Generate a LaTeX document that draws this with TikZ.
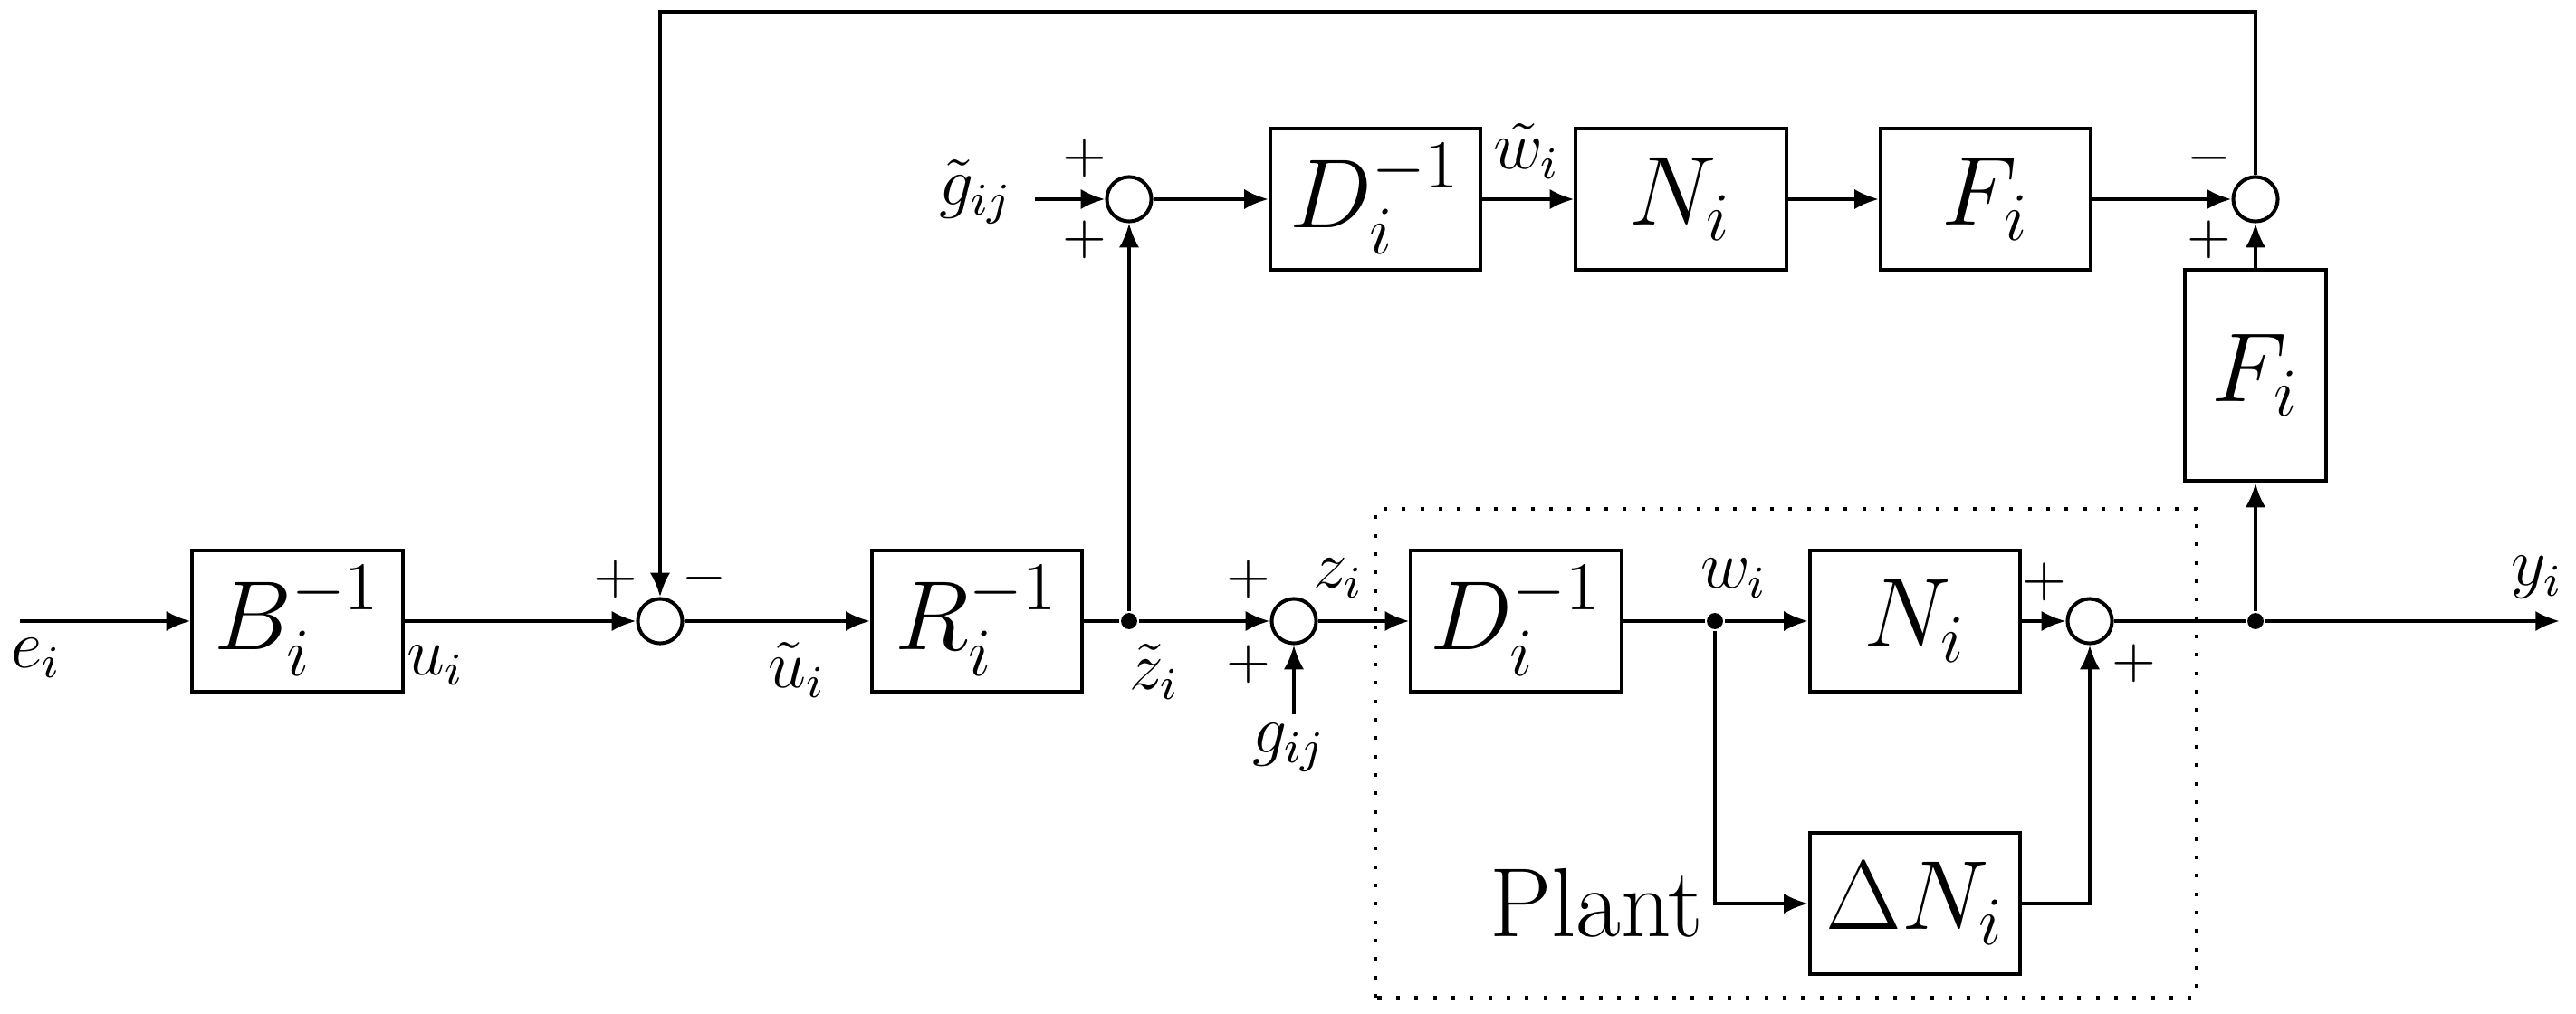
\documentclass[tikz,border=0pt]{standalone}
\usepackage{amsmath}
\usepackage{amssymb}
\usepackage{tikz}
\usetikzlibrary{arrows.meta}
\usetikzlibrary{calc}

\begin{document}
\begin{tikzpicture}[x=0.56mm,y=0.56mm,line width=0.64pt,
	blk/.style={draw, minimum width=13mm, minimum height=8.7mm, inner sep=0pt, font=\LARGE},
	vblk/.style={blk, minimum width=8.7mm, minimum height=13.1mm},
	sumnode/.style={draw, circle, minimum size=2.75mm, inner sep=0pt},
	junc/.style={fill, circle, minimum size=1mm, inner sep=0pt},
	lbl/.style={inner sep=0.5pt, font=\fontsize{11.5}{14}\selectfont},
	sgn/.style={inner sep=0.5pt},
	sig/.style={-{Latex[length=1.5mm,width=1.25mm]}}]
	\useasboundingbox (0,0) rectangle (284.5,111.9);
	% main row
	\coordinate (ein) at (2.2,43.3);
	\node[blk] (B) at (32.85,43.3) {$B_i^{-1}$};
	\node[sumnode] (s1) at (72.9,43.3) {};
	\node[blk] (R) at (107.9,43.3) {$R_i^{-1}$};
	\node[junc] (jz) at (124.7,43.3) {};
	\node[sumnode] (s2) at (142.9,43.3) {};
	\node[blk] (Dp) at (167.45,43.3) {$D_i^{-1}$};
	\node[junc] (jw) at (189.4,43.3) {};
	\node[blk] (Np) at (211.5,43.3) {$N_i$};
	\node[sumnode] (s3) at (230.8,43.3) {};
	\node[junc] (jy) at (249.1,43.3) {};
	\coordinate (yout) at (282.7,43.3);
	\node[blk] (dN) at (211.5,12.1) {$\Delta N_i$};
	\coordinate (gin) at (142.9,33.0);
	% upper row
	\coordinate (gtin) at (114.3,89.9);
	\node[sumnode] (s4) at (124.7,89.9) {};
	\node[blk] (Dt) at (151.9,89.9) {$D_i^{-1}$};
	\node[blk] (Nt) at (185.65,89.9) {$N_i$};
	\node[blk] (Ft) at (219.3,89.9) {$F_i$};
	\node[sumnode] (s5) at (249.1,89.9) {};
	\node[vblk] (Fr) at (249.1,70.45) {$F_i$};
	\coordinate (fbtop) at (72.9,110.6);

	\draw[sig] (ein) -- (B);
	\draw[sig] (B) -- (s1);
	\draw[sig] (s1) -- (R);
	\draw (R) -- (jz);
	\draw[sig] (jz) -- (s2);
	\draw[sig] (gin) -- (s2);
	\draw[sig] (s2) -- (Dp);
	\draw (Dp) -- (jw);
	\draw[sig] (jw) -- (Np);
	\draw[sig] (Np) -- (s3);
	\draw (s3) -- (jy);
	\draw[sig] (jy) -- (yout);
	\draw[sig] (jw) |- (dN);
	\draw[sig] (dN) -| (s3);
	\draw[sig] (jz) -- (s4);
	\draw[sig] (gtin) -- (s4);
	\draw[sig] (s4) -- (Dt);
	\draw[sig] (Dt) -- (Nt);
	\draw[sig] (Nt) -- (Ft);
	\draw[sig] (Ft) -- (s5);
	\draw[sig] (jy) -- (Fr);
	\draw[sig] (Fr) -- (s5);
	\draw[sig] (s5) |- (fbtop) -- (s1);

	% plant
	\draw[dash pattern=on 0.64pt off 2.6pt] (151.9,1.7) rectangle (242.6,55.7);
	\node[font=\LARGE] (lplant) at (176.3,12.2) {Plant};

	% signal labels
	\node[lbl] (le) at (4.0,39.2) {$e_i$};
	\node[lbl] (lu) at (48.1,38.4) {$u_i$};
	\node[lbl] (lut) at (88.0,37.9) {$\tilde{u}_i$};
	\node[lbl] (lzt) at (127.5,37.7) {$\tilde{z}_i$};
	\node[lbl] (lz) at (147.8,48.0) {$z_i$};
	\node[lbl] (lg) at (142.4,29.3) {$g_{ij}$};
	\node[lbl] (lw) at (191.5,48.0) {$w_i$};
	\node[lbl] (ly) at (280.2,48.1) {$y_i$};
	\node[lbl] (lgt) at (107.8,90.7) {$\tilde{g}_{ij}$};
	\node[lbl] (lwt) at (168.6,95.2) {$\tilde{w}_i$};
	% signs
	\node[sgn] (p1) at (68.0,47.9) {$+$};
	\node[sgn] (m1) at (77.8,48.0) {$-$};
	\node[sgn] (p2) at (137.9,47.9) {$+$};
	\node[sgn] (p3) at (137.9,38.5) {$+$};
	\node[sgn] (p4) at (225.8,47.6) {$+$};
	\node[sgn] (p5) at (235.7,38.6) {$+$};
	\node[sgn] (p6) at (119.8,94.4) {$+$};
	\node[sgn] (p7) at (119.8,85.4) {$+$};
	\node[sgn] (m2) at (244.0,94.4) {$-$};
	\node[sgn] (p8) at (244.0,85.4) {$+$};
\end{tikzpicture}
\end{document}
